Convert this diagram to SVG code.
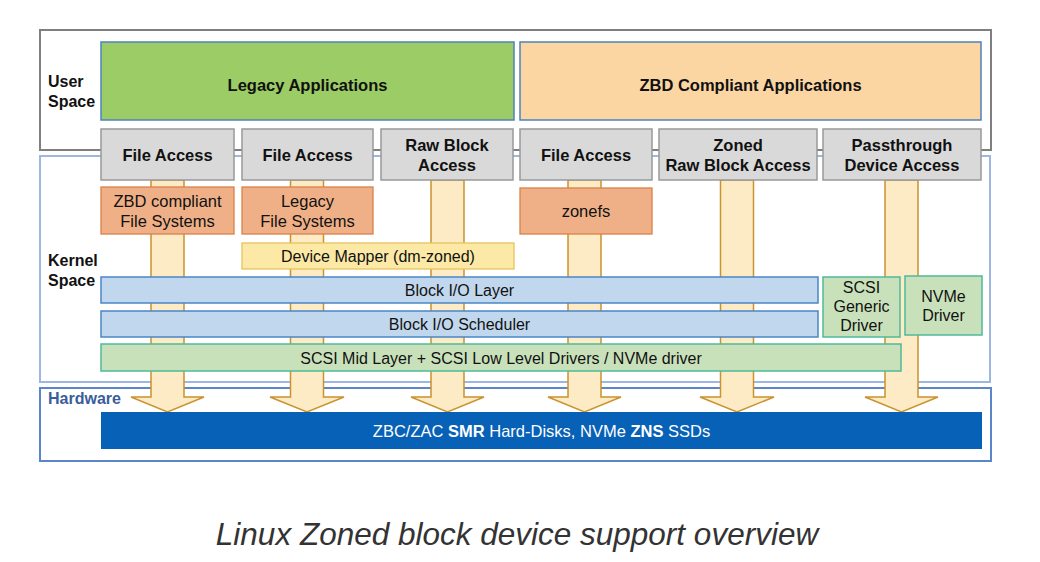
<svg xmlns="http://www.w3.org/2000/svg" width="1040" height="562" viewBox="0 0 1040 562">
<style>
text{font-family:"Liberation Sans",Arial,sans-serif;fill:#111;}
.b{font-weight:bold;}
.t15{font-size:16.5px;}
.t14{font-size:16px;}
.region{font-size:16px;font-weight:bold;}
.app{stroke:#4f81bd;stroke-width:1.5;}
.acc{fill:#d9d9d9;stroke:#999;stroke-width:1.5;}
.fs{fill:#f0b087;stroke:#d98249;stroke-width:1.3;}
.dm{fill:#fde9a6;stroke:#e8c45c;stroke-width:1.3;}
.blk{fill:#c1d7ed;stroke:#4a86c8;stroke-width:1.5;}
.drv{fill:#c9e1bb;stroke:#4dba9b;stroke-width:1.5;}
.arrow{fill:#fdebc6;stroke:#c9932f;stroke-width:1.5;stroke-linejoin:miter;}
</style>
<rect width="1040" height="562" fill="#fff"/>
<g id="containers">
<rect x="40" y="30" width="951" height="120" fill="none" stroke="#7f7f7f" stroke-width="2"/>
<rect x="40" y="156" width="950" height="226" fill="none" stroke="#9db6e2" stroke-width="2"/>
<rect x="40" y="388" width="951" height="73" fill="none" stroke="#5b86c9" stroke-width="2"/>
<text class="region" x="48" y="87">User</text>
<text class="region" x="48" y="107">Space</text>
<text class="region" x="48" y="266">Kernel</text>
<text class="region" x="48" y="286">Space</text>
<text class="region" x="48" y="404" style="fill:#3b5d9c">Hardware</text>
</g>
<g id="connectors">
<path class="arrow" d="M151,180 H184 V397 H204 L167.5,412 L131,397 H151 Z"/>
<path class="arrow" d="M290.5,180 H323.5 V397 H344 L307,412 L270,397 H290.5 Z"/>
<path class="arrow" d="M431,180 H464 V397 H484 L447.5,412 L411,397 H431 Z"/>
<path class="arrow" d="M568,180 H601 V397 H621 L584.5,412 L548,397 H568 Z"/>
<path class="arrow" d="M720.5,180 H753.5 V397 H774 L737,412 L700,397 H720.5 Z"/>
<path class="arrow" d="M885,180 H918 V397 H938 L901.5,412 L865,397 H885 Z"/>
</g>
<g id="legacy-apps"><rect class="app" x="101" y="42" width="413" height="78" fill="#9ccc65"/><text class="b t15" x="307.5" y="91" text-anchor="middle">Legacy Applications</text></g>
<g id="zbd-apps"><rect class="app" x="520" y="42" width="461" height="78" fill="#fbd6a2"/><text class="b t15" x="750.5" y="91" text-anchor="middle">ZBD Compliant Applications</text></g>
<g id="file-access-1"><rect class="acc" x="101" y="129" width="133" height="51"/><text class="b t15" x="167.5" y="161" text-anchor="middle">File Access</text></g>
<g id="file-access-2"><rect class="acc" x="242" y="129" width="131" height="51"/><text class="b t15" x="307.5" y="161" text-anchor="middle">File Access</text></g>
<g id="raw-block-access"><rect class="acc" x="381" y="129" width="132" height="51"/><text class="b t15" x="447" y="151" text-anchor="middle">Raw Block</text><text class="b t15" x="447" y="171" text-anchor="middle">Access</text></g>
<g id="file-access-3"><rect class="acc" x="520" y="129" width="132" height="51"/><text class="b t15" x="586" y="161" text-anchor="middle">File Access</text></g>
<g id="zoned-raw-block-access"><rect class="acc" x="659" y="129" width="158" height="51"/><text class="b t15" x="738" y="151" text-anchor="middle">Zoned</text><text class="b t15" x="738" y="171" text-anchor="middle">Raw Block Access</text></g>
<g id="passthrough"><rect class="acc" x="823" y="129" width="158" height="51"/><text class="b t15" x="902" y="151" text-anchor="middle">Passthrough</text><text class="b t15" x="902" y="171" text-anchor="middle">Device Access</text></g>
<g id="zbd-fs"><rect class="fs" x="101" y="187" width="133" height="47"/><text class="t15" x="167.5" y="207" text-anchor="middle">ZBD compliant</text><text class="t15" x="167.5" y="227" text-anchor="middle">File Systems</text></g>
<g id="legacy-fs"><rect class="fs" x="242" y="187" width="131" height="47"/><text class="t15" x="307.5" y="207" text-anchor="middle">Legacy</text><text class="t15" x="307.5" y="227" text-anchor="middle">File Systems</text></g>
<g id="zonefs"><rect class="fs" x="520" y="188" width="132" height="46"/><text class="t15" x="586" y="217" text-anchor="middle">zonefs</text></g>
<g id="device-mapper"><rect class="dm" x="242" y="243" width="272" height="26"/><text class="t14" x="378" y="262" text-anchor="middle">Device Mapper (dm-zoned)</text></g>
<g id="block-io-layer"><rect class="blk" x="101" y="277" width="717" height="26"/><text class="t14" x="459.5" y="296" text-anchor="middle">Block I/O Layer</text></g>
<g id="block-io-scheduler"><rect class="blk" x="101" y="311" width="717" height="26"/><text class="t14" x="459.5" y="330" text-anchor="middle">Block I/O Scheduler</text></g>
<g id="scsi-mid-layer"><rect class="drv" x="101" y="344" width="800" height="27"/><text class="t14" x="501" y="363.5" text-anchor="middle">SCSI Mid Layer + SCSI Low Level Drivers / NVMe driver</text></g>
<g id="scsi-generic"><rect class="drv" x="823" y="277" width="77" height="60"/><text class="t14" x="861.5" y="293" text-anchor="middle">SCSI</text><text class="t14" x="861.5" y="312" text-anchor="middle">Generic</text><text class="t14" x="861.5" y="331" text-anchor="middle">Driver</text></g>
<g id="nvme-driver"><rect class="drv" x="905" y="276" width="77" height="59"/><text class="t14" x="943.5" y="302" text-anchor="middle">NVMe</text><text class="t14" x="943.5" y="321" text-anchor="middle">Driver</text></g>
<g id="hardware-devices"><rect x="101" y="412" width="881" height="37" fill="#0761b7"/><text class="t15" x="541.5" y="436.5" text-anchor="middle" style="fill:#fff">ZBC/ZAC <tspan font-weight="bold">SMR</tspan> Hard-Disks, NVMe <tspan font-weight="bold">ZNS</tspan> SSDs</text></g>
<text x="517" y="545" text-anchor="middle" font-size="31.5" font-style="italic" style="fill:#333">Linux Zoned block device support overview</text>
</svg>
